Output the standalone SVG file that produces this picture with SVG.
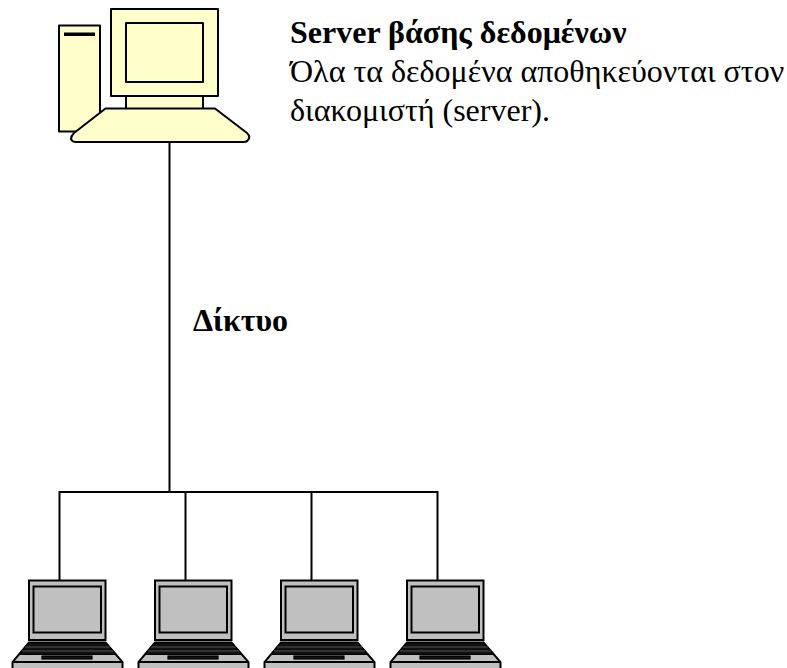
<svg xmlns="http://www.w3.org/2000/svg" width="787" height="668" viewBox="0 0 787 668">
<style>
.s{fill:#ffffcc;stroke:#000;stroke-width:2;stroke-linejoin:round}
.l{fill:#c0c0c0;stroke:#000;stroke-width:2;stroke-linejoin:miter}
.c{fill:none;stroke:#000;stroke-width:2}
.k{fill:#111;stroke:#000;stroke-width:1.200}
text{font-family:"Liberation Serif","Times New Roman",serif;font-size:32px;fill:#000}
.b{font-weight:bold}
</style>
<defs>
<g id="laptop">
<rect class="l" x="29" y="580.500" width="76.500" height="59.500"/>
<rect class="l" x="33.500" y="586.500" width="67.500" height="46"/>
<path class="l" d="M29 642.500H105.500L122.500 662V669H12.500V662Z"/>
<path d="M12.500 662H122.500" class="c"/>
<path class="k" d="M29 642.500H105.500L116 654.500H19Z"/>
<path d="M25 647H110M22 651H113" stroke="#666" stroke-width="0.800" fill="none"/>
<rect class="k" x="42" y="656" width="50" height="3"/>
</g>
</defs>
<g id="connectors">
<path class="c" d="M169.500 142V492M59.500 580V492H437.500V580M185.500 492V580M311.500 492V580"/>
</g>
<g id="server">
<rect class="s" x="59" y="25.500" width="41" height="106"/>
<rect x="64" y="32.500" width="31" height="3.500" fill="#000"/>
<rect class="s" x="126" y="90" width="77" height="20"/>
<rect class="s" x="111" y="9" width="107" height="87"/>
<rect class="s" x="126" y="23" width="77" height="59"/>
<path class="s" d="M105.500 108.500H215L247 133Q251 137 248 140Q247 142 244 142H76Q72 142 71 139Q71 136 74 133Z"/>
</g>
<g id="laptop1"><use href="#laptop"/></g>
<g id="laptop2"><use href="#laptop" x="126"/></g>
<g id="laptop3"><use href="#laptop" x="252"/></g>
<g id="laptop4"><use href="#laptop" x="378"/></g>
<g id="labels">
<text class="b" x="290" y="43">Server βάσης δεδομένων</text>
<text x="290" y="82">Όλα τα δεδομένα αποθηκεύονται στον</text>
<text x="290" y="121">διακομιστή (server).</text>
<text class="b" x="193" y="331">Δίκτυο</text>
</g>
</svg>
